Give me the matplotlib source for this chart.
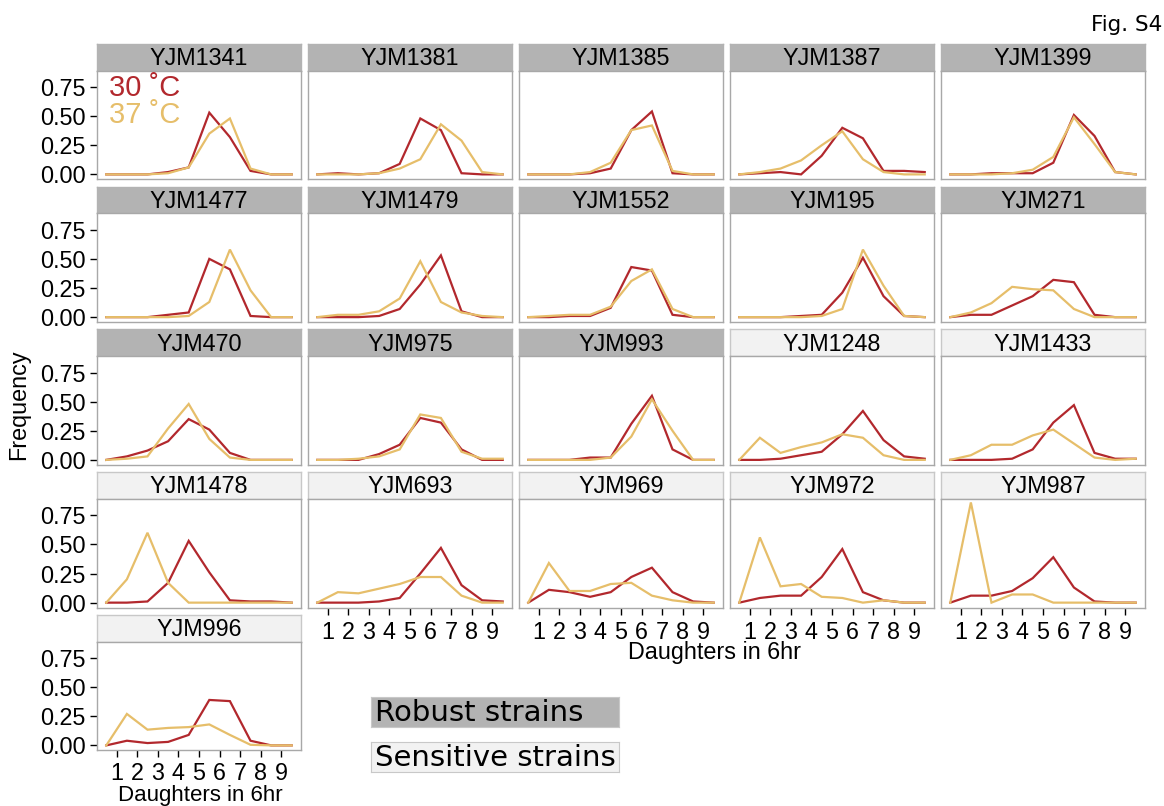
import matplotlib
matplotlib.use('Agg')
import matplotlib.pyplot as plt
import numpy as np

# Strain facets, in panel order (row by row)
strains = ['YJM1341', 'YJM1381', 'YJM1385', 'YJM1387', 'YJM1399',
           'YJM1477', 'YJM1479', 'YJM1552', 'YJM195', 'YJM271',
           'YJM470', 'YJM975', 'YJM993', 'YJM1248', 'YJM1433',
           'YJM1478', 'YJM693', 'YJM969', 'YJM972', 'YJM987',
           'YJM996']
n_robust = 13  # first 13 strains are robust, the rest sensitive

# bin centres (daughters in 6hr)
daughters = [0.5, 1.5, 2.5, 3.5, 4.5, 5.5, 6.5, 7.5, 8.5, 9.5]

# frequency at 30 C
freq_30 = [
    [0, 0, 0, 0.02, 0.06, 0.53, 0.32, 0.03, 0, 0],
    [0, 0.01, 0, 0.01, 0.09, 0.48, 0.38, 0.01, 0, 0],
    [0, 0, 0, 0.01, 0.05, 0.38, 0.54, 0.01, 0, 0],
    [0, 0.01, 0.02, 0, 0.16, 0.40, 0.31, 0.03, 0.03, 0.02],
    [0, 0, 0.01, 0.01, 0.01, 0.10, 0.51, 0.33, 0.02, 0],
    [0, 0, 0, 0.02, 0.04, 0.50, 0.41, 0.01, 0, 0],
    [0, 0, 0, 0.01, 0.07, 0.28, 0.53, 0.05, 0, 0],
    [0, 0, 0.01, 0.01, 0.08, 0.43, 0.40, 0.02, 0, 0],
    [0, 0, 0, 0.01, 0.02, 0.21, 0.51, 0.18, 0.01, 0],
    [0, 0.02, 0.02, 0.10, 0.18, 0.32, 0.30, 0.02, 0, 0],
    [0, 0.03, 0.08, 0.16, 0.35, 0.26, 0.06, 0, 0, 0],
    [0, 0, 0, 0.05, 0.13, 0.36, 0.32, 0.09, 0, 0],
    [0, 0, 0, 0.02, 0.02, 0.31, 0.55, 0.09, 0, 0],
    [0, 0, 0.01, 0.04, 0.07, 0.22, 0.42, 0.17, 0.03, 0.01],
    [0, 0, 0, 0.01, 0.09, 0.32, 0.47, 0.06, 0.01, 0.01],
    [0, 0, 0.01, 0.17, 0.53, 0.26, 0.02, 0.01, 0.01, 0],
    [0, 0, 0, 0.01, 0.04, 0.25, 0.47, 0.15, 0.02, 0.01],
    [0, 0.11, 0.09, 0.05, 0.09, 0.22, 0.30, 0.09, 0.01, 0],
    [0, 0.04, 0.06, 0.06, 0.22, 0.46, 0.09, 0.02, 0, 0],
    [0, 0.06, 0.06, 0.10, 0.21, 0.39, 0.13, 0.01, 0, 0],
    [0, 0.04, 0.02, 0.03, 0.09, 0.39, 0.38, 0.04, 0, 0],
]

# frequency at 37 C
freq_37 = [
    [0, 0, 0, 0.01, 0.06, 0.35, 0.48, 0.05, 0, 0],
    [0, 0, 0, 0.01, 0.05, 0.13, 0.43, 0.29, 0.02, 0],
    [0, 0, 0, 0.02, 0.10, 0.38, 0.42, 0.03, 0, 0],
    [0, 0.02, 0.05, 0.12, 0.25, 0.37, 0.13, 0.02, 0, 0],
    [0, 0, 0, 0.01, 0.04, 0.15, 0.49, 0.26, 0.02, 0],
    [0, 0, 0, 0, 0.01, 0.13, 0.58, 0.23, 0, 0],
    [0, 0.02, 0.02, 0.05, 0.16, 0.48, 0.13, 0.04, 0.01, 0],
    [0, 0.01, 0.02, 0.02, 0.09, 0.31, 0.41, 0.07, 0, 0],
    [0, 0, 0, 0, 0.01, 0.07, 0.58, 0.27, 0.01, 0],
    [0, 0.04, 0.12, 0.26, 0.24, 0.23, 0.07, 0, 0, 0],
    [0, 0.01, 0.03, 0.27, 0.48, 0.18, 0.02, 0, 0, 0],
    [0, 0, 0.01, 0.03, 0.09, 0.39, 0.36, 0.07, 0.01, 0.01],
    [0, 0, 0, 0, 0.02, 0.20, 0.52, 0.25, 0, 0],
    [0, 0.19, 0.06, 0.11, 0.15, 0.22, 0.19, 0.04, 0, 0],
    [0, 0.04, 0.13, 0.13, 0.21, 0.26, 0.14, 0.02, 0, 0.01],
    [0, 0.20, 0.60, 0.17, 0, 0, 0, 0, 0, 0],
    [0, 0.09, 0.08, 0.12, 0.16, 0.22, 0.22, 0.06, 0, 0],
    [0, 0.34, 0.10, 0.10, 0.16, 0.17, 0.06, 0.02, 0, 0],
    [0, 0.56, 0.14, 0.16, 0.05, 0.04, 0, 0.02, 0, 0],
    [0, 0.86, 0, 0.07, 0.07, 0, 0, 0, 0, 0],
    [0, 0.27, 0.135, 0.15, 0.157, 0.18, 0.09, 0.005, 0, 0],
]

RED = '#B2282D'
GOLD = '#E6BE6A'
ROBUST_GREY = '#B3B3B3'
SENSITIVE_GREY = '#F2F2F2'
FONT = ['Liberation Sans', 'DejaVu Sans']
FS = 16.8

W, H = 1164, 806
fig = plt.figure(figsize=(W / 100, H / 100), dpi=100)


def px_axes(x, y, w, h):
    # place an axes using pixel coords measured from the top-left corner
    return fig.add_axes([x / W, 1 - (y + h) / H, w / W, h / H])


col_left = 97
col_step = 211
panel_w = 204
row_top = 44
row_step = 142.75
strip_h = 26.7
panel_h = 108.7

for i, name in enumerate(strains):
    row, col = divmod(i, 5)
    x0 = col_left + col * col_step
    y0 = row_top + row * row_step
    robust = i < n_robust

    # facet strip
    sax = px_axes(x0, y0, panel_w, strip_h)
    sax.set_facecolor(ROBUST_GREY if robust else SENSITIVE_GREY)
    sax.set_xticks([])
    sax.set_yticks([])
    for sp in sax.spines.values():
        sp.set_color(ROBUST_GREY if robust else '#C8C8C8')
        sp.set_linewidth(1.0)
    sax.text(0.5, 0.45, name, ha='center', va='center', fontsize=FS,
             family=FONT, transform=sax.transAxes)

    # panel
    ax = px_axes(x0, y0 + strip_h, panel_w, panel_h)
    ax.plot(daughters, freq_30[i], color=RED, lw=1.6, solid_joinstyle='miter')
    ax.plot(daughters, freq_37[i], color=GOLD, lw=1.6, solid_joinstyle='miter')
    ax.set_xlim(0.05, 9.95)
    ax.set_ylim(-0.043, 0.89)
    for sp in ax.spines.values():
        sp.set_color('#A8A8A8')
        sp.set_linewidth(1.0)

    ax.set_yticks([0, 0.25, 0.5, 0.75])
    ax.set_xticks(range(1, 10))
    ax.tick_params(length=5, width=1, color='black', labelsize=FS, pad=3)
    ax.tick_params(axis='x', pad=4.5 if row < 4 else 3)
    if col == 0:
        ax.set_yticklabels(['0.00', '0.25', '0.50', '0.75'], family=FONT)
    else:
        ax.tick_params(axis='y', length=0, labelleft=False)
    bottom = (row == 4) or (row == 3 and col > 0)
    if bottom:
        ax.set_xticklabels([str(k) for k in range(1, 10)], family=FONT)
    else:
        ax.tick_params(axis='x', length=0, labelbottom=False)

    if i == 0:
        ax.text(0.06, 0.84, '30 \u02daC', color=RED, fontsize=21, family=FONT,
                transform=ax.transAxes, va='center')
        ax.text(0.06, 0.59, '37 \u02daC', color=GOLD, fontsize=21, family=FONT,
                transform=ax.transAxes, va='center')

# axis titles
fig.text(19 / W, 1 - 405 / H, 'Frequency', rotation=90, ha='center', va='center',
         fontsize=FS, family=FONT)
fig.text(200 / W, 1 - 801 / H, 'Daughters in 6hr', ha='center', va='baseline',
         fontsize=16, family=FONT)
fig.text(715 / W, 1 - 653 / H, 'Daughters in 6hr', ha='center', va='center',
         fontsize=FS, family=FONT)

fig.text(1162 / W, 1 - 25 / H, 'Fig. S4', ha='right', va='center',
         fontsize=15.5, family='DejaVu Sans')

# robust / sensitive key
for label, colour, top in [('Robust strains', ROBUST_GREY, 697),
                           ('Sensitive strains', SENSITIVE_GREY, 742)]:
    kax = px_axes(371, top, 248, 30)
    kax.set_facecolor(colour)
    kax.set_xticks([])
    kax.set_yticks([])
    for sp in kax.spines.values():
        sp.set_color('#C8C8C8')
    kax.text(0.015, 0.47, label, ha='left', va='center', fontsize=21,
             family='DejaVu Sans', transform=kax.transAxes)

fig.savefig('out.png', dpi=100)
